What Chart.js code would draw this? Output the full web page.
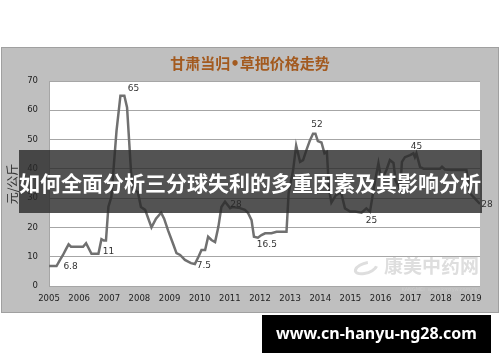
<!DOCTYPE html>
<html>
<head>
<meta charset="utf-8">
<script src="https://cdn.jsdelivr.net/npm/chart.js@4"></script>
<style>
  html, body { margin: 0; padding: 0; background: #fff; }
  #wrap { width: 500px; height: 362px; }
</style>
</head>
<body>
<div id="wrap"><canvas id="priceChart" width="500" height="362"></canvas></div>
<script>
// 甘肃当归 草把 价格 (元/公斤)
const years = [
  2005.00, 2005.25, 2005.37, 2005.46, 2005.56, 2005.65, 2005.73, 2006.13, 2006.23, 2006.41,
  2006.64, 2006.74, 2006.82, 2006.89, 2006.97, 2007.07, 2007.24, 2007.37, 2007.50, 2007.59,
  2007.74, 2007.82, 2007.95, 2008.05, 2008.19, 2008.40, 2008.55, 2008.72, 2008.82, 2008.95,
  2009.11, 2009.23, 2009.35, 2009.51, 2009.71, 2009.84, 2009.96, 2010.06, 2010.18, 2010.28,
  2010.39, 2010.51, 2010.62, 2010.72, 2010.84, 2010.94, 2011.01, 2011.10, 2011.34, 2011.50,
  2011.60, 2011.72, 2011.80, 2011.93, 2012.05, 2012.17, 2012.38, 2012.55, 2012.88, 2012.95,
  2013.10, 2013.20, 2013.33, 2013.43, 2013.54, 2013.66, 2013.76, 2013.84, 2013.92, 2014.04,
  2014.14, 2014.22, 2014.29, 2014.37, 2014.52, 2014.69, 2014.82, 2014.99, 2015.15, 2015.37,
  2015.53, 2015.65, 2015.82, 2015.93, 2016.03, 2016.20, 2016.31, 2016.43, 2016.50, 2016.65,
  2016.71, 2016.81, 2016.98, 2017.09, 2017.14, 2017.19, 2017.31, 2017.43, 2017.97, 2018.04,
  2018.14, 2018.35, 2018.85, 2018.97, 2019.18, 2019.30
];
const prices = [
  6.8, 6.8, 9, 10.5, 12.5, 14.2, 13.4, 13.4, 14.6, 11,
  11, 16, 15.5, 15.5, 27, 30.5, 53, 65, 65, 61,
  36, 33, 32, 27, 26, 20, 23, 25, 23, 19,
  14.6, 11.2, 10.6, 8.9, 7.8, 7.5, 10, 12.3, 12.3, 16.8,
  15.7, 15, 20.2, 27, 28.8, 27.5, 26.6, 27, 26.6, 26,
  25, 22.5, 16.8, 16.5, 17.4, 18, 18, 18.5, 18.5, 31.7,
  39.6, 48, 42.4, 43, 46.4, 49.8, 52, 52, 49.5, 49,
  45.3, 45.8, 33, 28.5, 31, 32, 26.5, 25.4, 25.4, 25,
  26.5, 25.4, 36, 41.9, 36, 39.7, 43, 42, 36, 33,
  42.4, 44, 44.7, 45.3, 44, 45.3, 40.7, 40, 40, 40.7,
  39.8, 39.6, 39.6, 31.6, 29.3, 28
];

// 数据标签
const labelIndex = [1, 10, 17, 44, 35, 53, 66, 79, 93, 105];
const labelText = ["6.8", "11", "65", "28", "7.5", "16.5", "52", "25", "45", "28"];
const labelOffset = [[14, 1], [10, -2], [13, -7], [11, 3], [9, 2], [9, 7], [4, -9], [10, 8], [3, -7], [7, 1]];

const chartTitle = "甘肃当归•草把价格走势";
const yTitle = "元/公斤";
const bannerText = "如何全面分析三分球失利的多重因素及其影响分析";
const urlText = "www.cn-hanyu-ng28.com";

const points = years.map((y, i) => ({ x: y, y: prices[i] }));

const decorPlugin = {
  id: "decor",
  beforeDraw(chart) {
    const c = chart.ctx;
    const a = chart.chartArea;
    c.save();
    c.fillStyle = "#fff";
    c.fillRect(0, 0, chart.width, chart.height);
    // grey frame
    c.fillStyle = "#bfbfbf";
    c.fillRect(1, 47, 498, 266);
    c.strokeStyle = "#a0a0a0";
    c.lineWidth = 1;
    c.strokeRect(1.5, 47.5, 497, 265);
    // plot area
    c.fillStyle = "#fff";
    c.fillRect(a.left, a.top, a.right - a.left, a.bottom - a.top);
    // watermark
    c.fillStyle = "#dedede";
    c.font = "bold 19px 'Noto Sans CJK SC'";
    c.textAlign = "right";
    c.textBaseline = "middle";
    c.fillText("康美中药网", a.right - 1, a.bottom - 20);
    c.strokeStyle = "#dedede";
    c.lineWidth = 3;
    c.beginPath();
    c.ellipse(a.right - 114, a.bottom - 18, 11, 5, -0.3, 0.3, Math.PI * 1.6);
    c.stroke();
    c.font = "5px 'DejaVu Sans'";
    c.fillStyle = "#cacaca";
    c.fillText("KANGMEI  www.kmzyw.com.cn", a.right - 2, a.bottom + 4);
    c.restore();
  },
  afterDraw(chart) {
    const c = chart.ctx;
    const meta = chart.getDatasetMeta(0);
    c.save();
    // title
    c.fillStyle = "#a35a1f";
    c.font = "bold 15px 'DejaVu Sans', 'Noto Sans CJK SC'";
    c.textAlign = "center";
    c.textBaseline = "middle";
    c.fillText(chartTitle, 250, 65);
    // data labels
    c.fillStyle = "#333";
    c.font = "9px 'DejaVu Sans'";
    labelIndex.forEach((idx, k) => {
      const p = meta.data[idx];
      c.fillText(labelText[k], p.x + labelOffset[k][0], p.y + labelOffset[k][1]);
    });
    // y title
    c.save();
    c.translate(12, 184);
    c.rotate(-Math.PI / 2);
    c.font = "12px 'Noto Sans CJK SC'";
    c.fillStyle = "#333";
    c.fillText(yTitle, 0, 0);
    c.restore();
    // banner
    c.fillStyle = "rgba(40,40,40,0.8)";
    c.fillRect(19, 150, 463, 63);
    c.fillStyle = "#fff";
    c.font = "bold 21px 'Noto Sans CJK SC'";
    c.fillText(bannerText, 250, 183);
    // url box
    c.fillStyle = "#000";
    c.fillRect(262, 315, 229, 38);
    c.fillStyle = "#fff";
    c.font = "bold 16px 'Noto Sans'";
    c.fillText(urlText, 376.5, 334);
    c.restore();
  }
};

const ctx = document.getElementById("priceChart").getContext("2d");
const priceChart = new Chart(ctx, {
  type: "line",
  data: {
    datasets: [
      {
        data: points,
        borderColor: "#707070",
        borderWidth: 2.5,
        pointRadius: 0,
        tension: 0,
        fill: false,
      },
    ],
  },
  options: {
    responsive: false,
    animation: false,
    layout: { padding: { left: 0, right: 20, top: 81, bottom: 52 } },
    plugins: { legend: { display: false }, tooltip: { enabled: false } },
    scales: {
      x: {
        type: "linear",
        min: 2005,
        max: 2019.3,
        grid: { display: false, drawTicks: false },
        border: { display: false },
        afterFit: (s) => { s.height = 24; },
        ticks: {
          stepSize: 1,
          includeBounds: false,
          autoSkip: false,
          maxRotation: 0,
          padding: 8,
          color: "#222",
          font: { family: "DejaVu Sans", size: 8.5 },
          callback: (v) => String(v),
        },
      },
      y: {
        min: 0,
        max: 70,
        grid: { color: "#a6a6a6", drawTicks: false },
        border: { display: true, color: "#a6a6a6" },
        afterFit: (s) => { s.width = 49; },
        ticks: {
          stepSize: 10,
          padding: 11,
          color: "#222",
          font: { family: "DejaVu Sans", size: 8.5 },
        },
      },
    },
  },
  plugins: [decorPlugin],
});
</script>
</body>
</html>
